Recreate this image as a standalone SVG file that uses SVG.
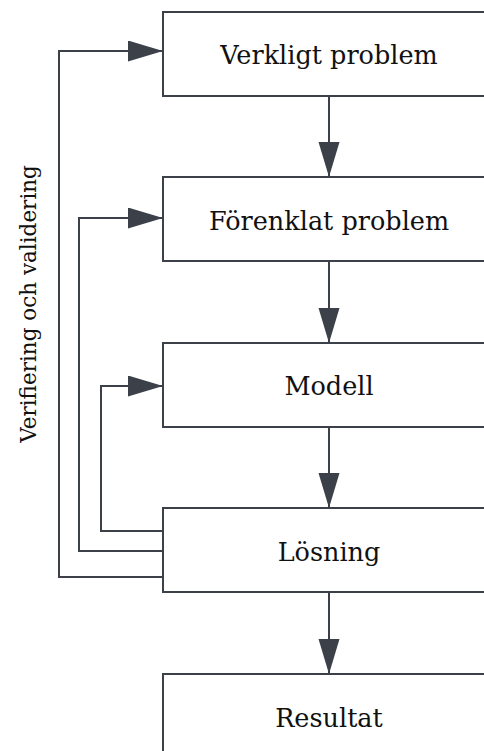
<svg xmlns="http://www.w3.org/2000/svg" width="484" height="751" viewBox="0 0 484 751">
<style>
.box{fill:#ffffff;stroke:#3b4049;stroke-width:2}
.lbl{font-family:"DejaVu Serif","Liberation Serif",serif;font-size:25.5px;fill:#111111;text-anchor:middle}
.side{font-family:"DejaVu Serif","Liberation Serif",serif;font-size:21.5px;fill:#111111;text-anchor:middle}
.con{fill:none;stroke:#3b4049;stroke-width:2}
</style>
<defs>
<marker id="ah" markerUnits="userSpaceOnUse" markerWidth="36" markerHeight="22" refX="35" refY="10.5" orient="auto" viewBox="0 0 36 22">
<path d="M0,0 L35,10.5 L0,21 Z" fill="#3b4049"/>
</marker>
</defs>
<rect width="484" height="751" fill="#ffffff"/>
<g id="connectors">
<path class="con" d="M329,96 V177" marker-end="url(#ah)"/>
<path class="con" d="M329,261 V343" marker-end="url(#ah)"/>
<path class="con" d="M329,427 V508" marker-end="url(#ah)"/>
<path class="con" d="M329,592 V674" marker-end="url(#ah)"/>
<path class="con" d="M163,577 H59 V51 H163" marker-end="url(#ah)"/>
<path class="con" d="M163,551 H79 V218 H163" marker-end="url(#ah)"/>
<path class="con" d="M163,531 H101 V386 H163" marker-end="url(#ah)"/>
<text class="side" transform="translate(36,304) rotate(-90)">Verifiering och validering</text>
</g>
<g id="verkligt">
<rect class="box" x="163" y="12" width="334" height="84"/>
<text class="lbl" x="329" y="64">Verkligt problem</text>
</g>
<g id="forenklat">
<rect class="box" x="163" y="177" width="334" height="84"/>
<text class="lbl" x="329" y="230">Förenklat problem</text>
</g>
<g id="modell">
<rect class="box" x="163" y="343" width="334" height="84"/>
<text class="lbl" x="329" y="395">Modell</text>
</g>
<g id="losning">
<rect class="box" x="163" y="508" width="334" height="84"/>
<text class="lbl" x="329" y="561">Lösning</text>
</g>
<g id="resultat">
<rect class="box" x="163" y="674" width="334" height="90"/>
<text class="lbl" x="329" y="727">Resultat</text>
</g>
</svg>
